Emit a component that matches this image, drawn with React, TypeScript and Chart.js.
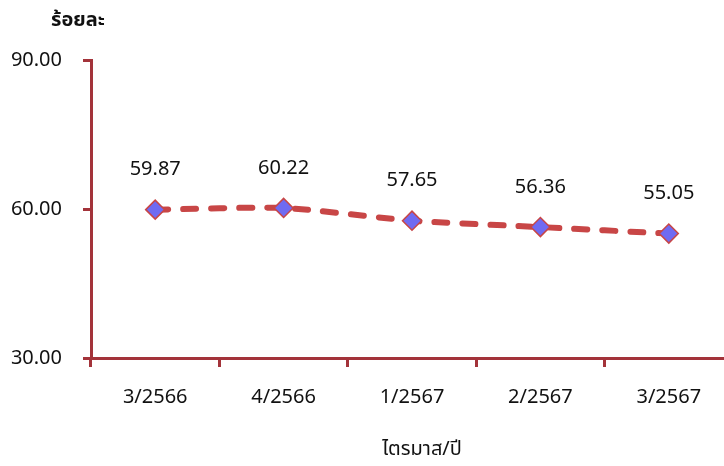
import React, { useEffect, useRef } from "react";
import { Chart, registerables } from "chart.js";

Chart.register(...registerables);

const categories = ["3/2566", "4/2566", "1/2567", "2/2567", "3/2567"];
const values = [59.87, 60.22, 57.65, 56.36, 55.05];
const yTicks = [30, 60, 90];
const yTitle = "ร้อยละ";
const xTitle = "ไตรมาส/ปี";

const FONT = "'Noto Sans', 'Noto Sans Thai', sans-serif";
const AXIS = "#A3333A";

export default function App() {
  const ref = useRef<HTMLCanvasElement | null>(null);
  useEffect(() => {
    if (!ref.current) return;
    const labelsPlugin = {
      id: "labelsPlugin",
      afterDatasetsDraw(chart: any) {
        const ctx = chart.ctx;
        const meta = chart.getDatasetMeta(0);
        ctx.save();
        ctx.font = `20px ${FONT}`;
        ctx.fillStyle = "#111";
        ctx.textAlign = "center";
        ctx.textBaseline = "middle";
        meta.data.forEach((pt: any, i: number) => {
          ctx.fillText(values[i].toFixed(2), pt.x, pt.y - 40);
        });
        const ca = chart.chartArea;
        ctx.font = `bold 20px ${FONT}`;
        ctx.fillText(yTitle, ca.left - 13, ca.top - 40);
        ctx.font = `20px ${FONT}`;
        ctx.fillText(xTitle, (ca.left + ca.right) / 2 + 10, ca.bottom + 91);
        ctx.restore();
      },
    };
    const chart = new Chart(ref.current, {
      type: "line",
      data: {
        labels: categories,
        datasets: [
          {
            data: values,
            borderColor: "#C84646",
            borderWidth: 6,
            borderDash: [13, 15],
            borderCapStyle: "round",
            tension: 0.2,
            pointStyle: "rectRot",
            pointRadius: 9.5,
            pointHoverRadius: 9.5,
            pointBackgroundColor: "#6F6BF2",
            pointBorderColor: "#C84646",
            pointBorderWidth: 1.5,
            fill: false,
          },
        ],
      },
      plugins: [labelsPlugin],
      options: {
        animation: false,
        responsive: true,
        maintainAspectRatio: false,
        layout: { padding: { top: 60, left: 0, right: 0, bottom: 0 } },
        plugins: { legend: { display: false }, tooltip: { enabled: false } },
        scales: {
          x: {
            offset: true,
            afterFit(scale: any) {
              scale.height = 108;
              scale.paddingRight = 0;
              scale.paddingLeft = 0;
            },
            grid: {
              offset: true,
              drawOnChartArea: false,
              drawTicks: true,
              tickLength: 9,
              color: AXIS,
              lineWidth: 3,
            },
            border: { color: AXIS, width: 3 },
            ticks: {
              color: "#111",
              font: { family: FONT, size: 20 },
              padding: 18,
            },
          },
          y: {
            min: 30,
            max: 90,
            afterFit(scale: any) {
              scale.width = 91;
            },
            afterBuildTicks(scale: any) {
              scale.ticks = yTicks.map((v) => ({ value: v }));
            },
            grid: {
              drawOnChartArea: false,
              drawTicks: true,
              tickLength: 8,
              color: AXIS,
              lineWidth: 3,
            },
            border: { color: AXIS, width: 3 },
            ticks: {
              color: "#111",
              font: { family: FONT, size: 20 },
              padding: 21,
              callback: (v: any) => Number(v).toFixed(2),
            },
          },
        },
      },
    });
    return () => chart.destroy();
  }, []);
  return (
    <div
      style={{
        position: "fixed",
        left: 0,
        top: 0,
        width: 724,
        height: 466,
        overflow: "hidden",
        background: "#fff",
      }}
    >
      <div style={{ position: "absolute", left: 0, top: 0, width: 744, height: 466 }}>
        <canvas ref={ref} />
      </div>
    </div>
  );
}
